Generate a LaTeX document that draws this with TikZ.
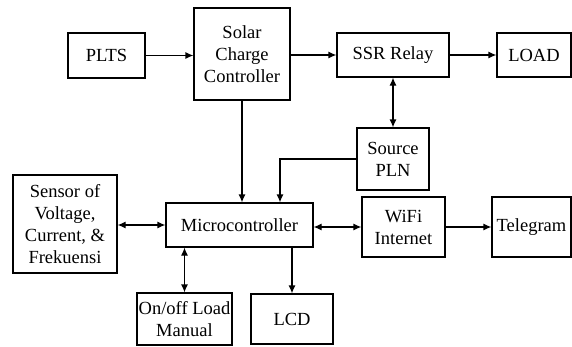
\documentclass[tikz,border=0pt]{standalone}
\usepackage{fontspec}
\setmainfont{LiberationSerif-Regular.ttf}
\usetikzlibrary{arrows.meta}

\begin{document}
\begin{tikzpicture}[x=1pt,y=-1pt,
    block/.style={draw,line width=1.2pt,align=center,inner sep=0pt,
      font=\fontsize{18.5}{22}\selectfont},
    arr/.style={draw,line width=1.2pt,-{Latex[length=8pt,width=7pt]}},
    darr/.style={draw,line width=1.2pt,{Latex[length=8pt,width=7pt]}-{Latex[length=8pt,width=7pt]}}]
  \useasboundingbox (0,0) rectangle (572,346);

  \node[block,minimum width=77pt,minimum height=45pt] (plts) at (106.5,55.5) {PLTS};
  \node[block,minimum width=96pt,minimum height=92pt] (scc) at (242,54) {Solar\\Charge\\Controller};
  \node[block,minimum width=112pt,minimum height=44pt] (ssr) at (393,55) {SSR Relay};
  \node[block,minimum width=74pt,minimum height=44pt] (load) at (534,55) {LOAD};
  \node[block,minimum width=72pt,minimum height=62pt] (pln) at (393,159) {Source\\PLN};
  \node[block,minimum width=104pt,minimum height=98pt] (sensor) at (65,224) {Sensor of\\Voltage,\\Current, \&\\Frekuensi};
  \node[block,minimum width=147pt,minimum height=44pt] (mcu) at (239.5,225) {Microcontroller};
  \node[block,minimum width=83pt,minimum height=60pt] (wifi) at (403.5,227) {WiFi\\Internet};
  \node[block,minimum width=79pt,minimum height=60pt] (tele) at (531.5,227) {Telegram};
  \node[block,minimum width=95pt,minimum height=52pt] (onoff) at (184.5,319) {On/off Load\\Manual};
  \node[block,minimum width=82pt,minimum height=50pt] (lcd) at (292,319) {LCD};

  \draw[arr] (plts) -- (plts -| scc.west);
  \draw[arr] (scc.east |- ssr) -- (ssr);
  \draw[arr] (ssr) -- (load);
  \draw[darr] (ssr) -- (pln);
  \draw[arr] (scc) -- (scc |- mcu.north);
  \draw[arr] (pln.west) -| ([xshift=40.5pt]mcu.north);
  \draw[darr] (sensor.east |- mcu) -- (mcu);
  \draw[darr] (mcu.east |- wifi) -- (wifi);
  \draw[arr] (wifi) -- (tele);
  \draw[darr] (onoff.north |- mcu.south) -- (onoff);
  \draw[arr] (lcd.north |- mcu.south) -- (lcd);
\end{tikzpicture}
\end{document}
